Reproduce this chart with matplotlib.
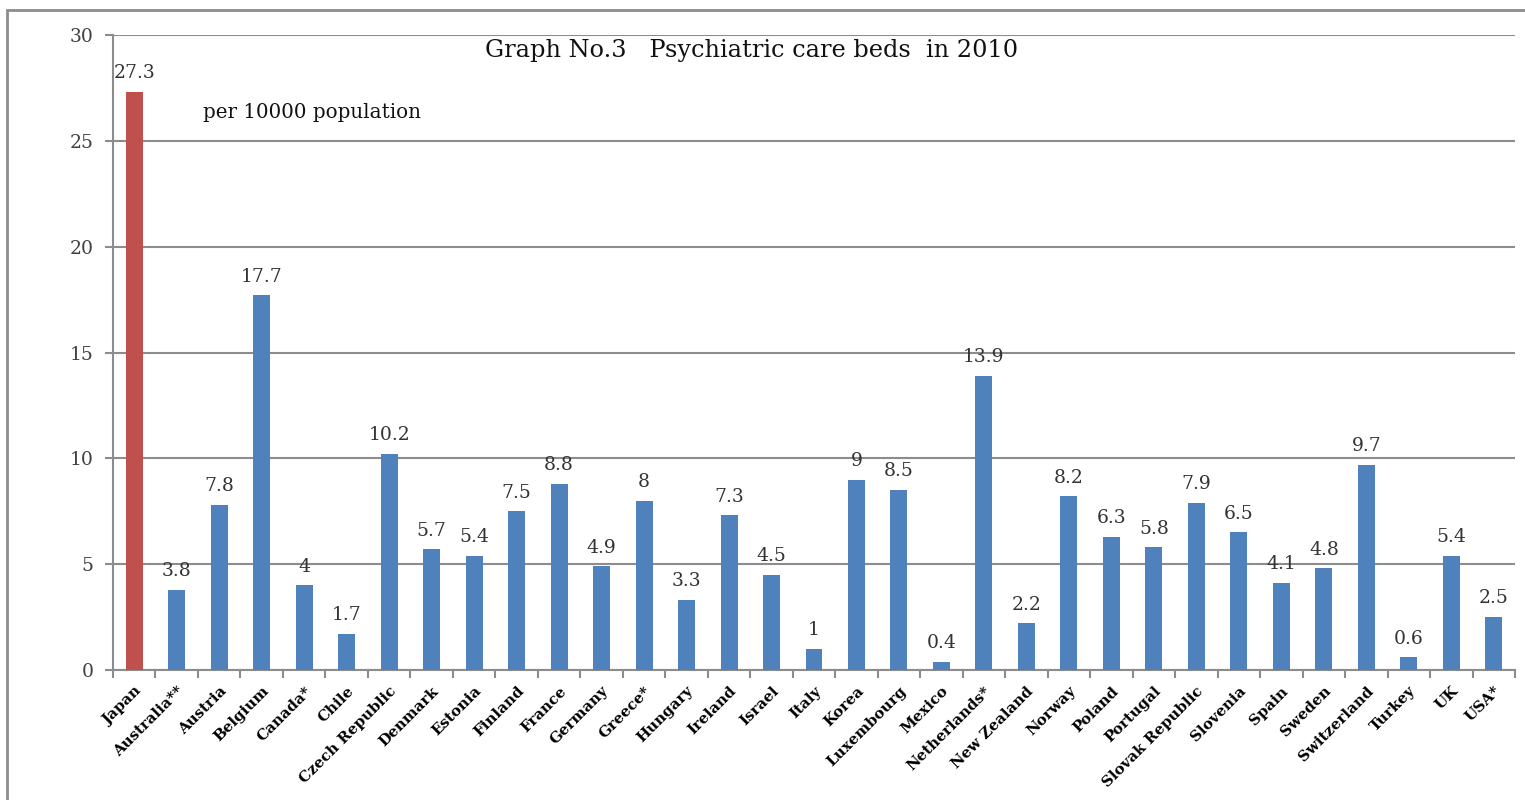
import matplotlib
matplotlib.use("Agg")
import matplotlib.pyplot as plt
from matplotlib.patches import Rectangle

countries = ["Japan", "Australia**", "Austria", "Belgium", "Canada*", "Chile",
             "Czech Republic", "Denmark", "Estonia", "Finland", "France", "Germany",
             "Greece*", "Hungary", "Ireland", "Israel", "Italy", "Korea", "Luxembourg",
             "Mexico", "Netherlands*", "New Zealand", "Norway", "Poland", "Portugal",
             "Slovak Republic", "Slovenia", "Spain", "Sweden", "Switzerland", "Turkey",
             "UK", "USA*"]
values = [27.3, 3.8, 7.8, 17.7, 4, 1.7, 10.2, 5.7, 5.4, 7.5, 8.8, 4.9, 8, 3.3,
          7.3, 4.5, 1, 9, 8.5, 0.4, 13.9, 2.2, 8.2, 6.3, 5.8, 7.9, 6.5, 4.1, 4.8,
          9.7, 0.6, 5.4, 2.5]
value_labels = ["27.3", "3.8", "7.8", "17.7", "4", "1.7", "10.2", "5.7", "5.4", "7.5",
                "8.8", "4.9", "8", "3.3", "7.3", "4.5", "1", "9", "8.5", "0.4", "13.9",
                "2.2", "8.2", "6.3", "5.8", "7.9", "6.5", "4.1", "4.8", "9.7", "0.6",
                "5.4", "2.5"]
yticks = [0, 5, 10, 15, 20, 25, 30]

serif = ["DejaVu Serif", "Liberation Serif"]
plt.rcParams["font.family"] = serif

W, H = 1525, 800
fig = plt.figure(figsize=(W / 100, H / 100), dpi=100)
ax = fig.add_axes([113 / W, 1 - 670 / H, (1515 - 113) / W, (670 - 35) / H])

colors = ["#C0504D"] + ["#4F81BD"] * (len(values) - 1)
x = list(range(len(values)))
ax.bar(x, values, width=0.4, color=colors, zorder=3)

for xi, v, lab in zip(x, values, value_labels):
    ax.annotate(lab, (xi, v), xytext=(0, 7), textcoords="offset points",
                ha="center", va="bottom", fontsize=13.5, color="#333333")

ax.set_xlim(-0.5, len(values) - 0.5)
ax.set_ylim(0, 30)
ax.set_yticks(yticks)
ax.set_yticklabels([str(t) for t in yticks], fontsize=13.5, color="#404040")
ax.yaxis.grid(True, color="#8c8c8c", linewidth=1.5, zorder=0)
ax.set_axisbelow(True)

ax.set_xticks([i - 0.5 for i in range(len(values) + 1)], minor=False)
ax.set_xticklabels([])
ax.set_xticks(x, minor=True)
ax.set_xticklabels(countries, minor=True, rotation=45, ha="right",
                   rotation_mode="anchor", fontsize=10.8, fontweight="bold")
ax.tick_params(axis="x", which="minor", length=0, pad=10)
ax.tick_params(axis="x", which="major", length=6, color="#8c8c8c", width=1.5)
ax.tick_params(axis="y", length=6, color="#8c8c8c", width=1.5, pad=8)

for s in ["top", "right"]:
    ax.spines[s].set_visible(False)
for s in ["left", "bottom"]:
    ax.spines[s].set_color("#8c8c8c")
    ax.spines[s].set_linewidth(1.5)

fig.text(752 / W, 1 - 51 / H, "Graph No.3   Psychiatric care beds  in 2010",
         ha="center", va="center", fontsize=17.3, color="#111111")
fig.text(203 / W, 1 - 113 / H, "per 10000 population", ha="left", va="center",
         fontsize=14.3, color="#111111")

fig.patches.append(Rectangle((7 / W, -0.1), 1.2, 1 - 10 / H + 0.1,
                             transform=fig.transFigure, fill=False,
                             edgecolor="#8c8c8c", linewidth=2))

fig.savefig("out.png", dpi=100)
